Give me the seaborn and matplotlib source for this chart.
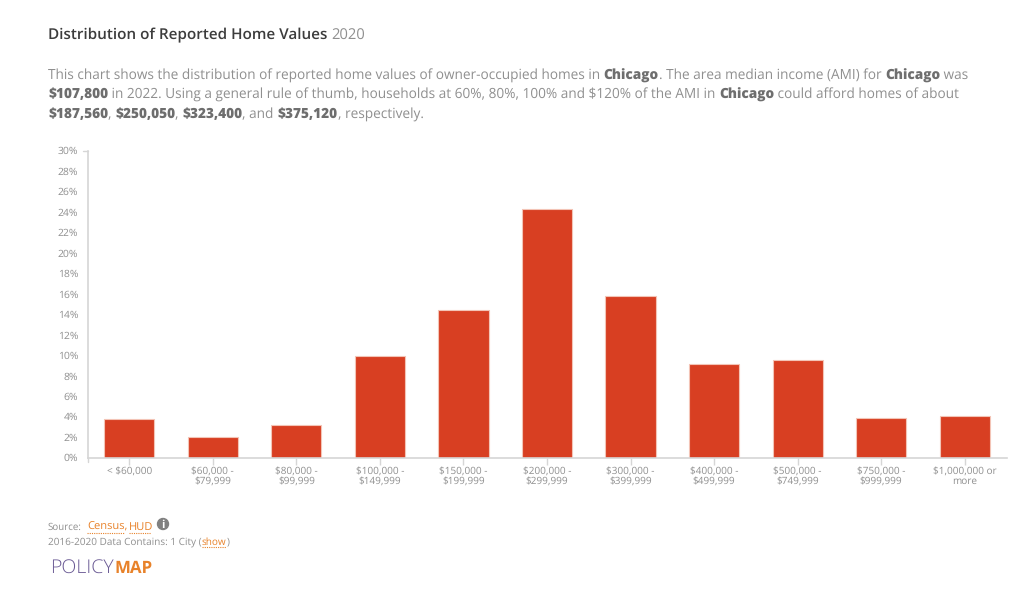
"""Distribution of reported home values, Chicago (PolicyMap chart)."""

import matplotlib

matplotlib.use("Agg")
import matplotlib.pyplot as plt
import pandas as pd
import seaborn as sns
from matplotlib.lines import Line2D
from matplotlib.patches import Ellipse
from matplotlib.ticker import FuncFormatter, MultipleLocator

categories = [
    "< $60,000",
    "$60,000 -\n$79,999",
    "$80,000 -\n$99,999",
    "$100,000 -\n$149,999",
    "$150,000 -\n$199,999",
    "$200,000 -\n$299,999",
    "$300,000 -\n$399,999",
    "$400,000 -\n$499,999",
    "$500,000 -\n$749,999",
    "$750,000 -\n$999,999",
    "$1,000,000 or\nmore",
]
shares = [3.8, 2.0, 3.2, 9.9, 14.4, 24.3, 15.8, 9.1, 9.5, 3.9, 4.1]

intro_lines = [
    [("This chart shows the distribution of reported home values of owner-occupied homes in ", False),
     ("Chicago", True), (". The area median income (AMI) for ", False), ("Chicago", True), (" was", False)],
    [("$107,800", True), (" in 2022. Using a general rule of thumb, households at 60%, 80%, 100% and $120% of the AMI in ", False),
     ("Chicago", True), (" could afford homes of about", False)],
    [("$187,560", True), (", ", False), ("$250,050", True), (", ", False), ("$323,400", True),
     (", and ", False), ("$375,120", True), (", respectively.", False)],
]

WIDTH, HEIGHT = 1024, 591
RED = "#d83f22"
GREY = "#8f8f8f"
ORANGE = "#e8822a"
AXIS = "#d6d6d6"

sns.set_theme(style="white", font="Open Sans")
plt.rcParams["font.family"] = ["Open Sans", "DejaVu Sans"]
plt.rcParams["text.hinting"] = "no_hinting"

fig = plt.figure(figsize=(WIDTH / 100, HEIGHT / 100), dpi=100, facecolor="white")
ax = fig.add_axes([87.5 / WIDTH, 1 - 457.5 / HEIGHT, 919 / WIDTH, 307 / HEIGHT])

df = pd.DataFrame({"range": categories, "share": shares})
sns.barplot(data=df, x="range", y="share", color=RED, saturation=1, width=0.6,
            edgecolor="#f3c4b6", linewidth=0.8, ax=ax)

ax.set_xlim(-0.5, len(categories) - 0.5)
ax.set_ylim(0, 30)
ax.set_xlabel("")
ax.set_ylabel("")
ax.yaxis.set_major_locator(MultipleLocator(2))
ax.yaxis.set_major_formatter(FuncFormatter(lambda v, _: f"{v:.0f}%"))
ax.tick_params(axis="y", length=0, labelsize=7.5, labelcolor=GREY, pad=6.8, left=False)
ax.tick_params(axis="x", length=5, width=1, color=AXIS, labelsize=7.2, labelcolor=GREY, pad=1.5, bottom=True)
for label in ax.get_xticklabels():
    label.set_linespacing(0.95)
sns.despine(ax=ax, top=True, right=True)
ax.spines["left"].set_color(AXIS)
ax.spines["bottom"].set_color(AXIS)
ax.spines["left"].set_linewidth(1.2)
ax.spines["bottom"].set_linewidth(1.2)

# small ticks at the top of the y axis and under its foot
fig.add_artist(Line2D([83 / WIDTH, 87.5 / WIDTH], [1 - 150.5 / HEIGHT] * 2, color=AXIS, lw=1))
fig.add_artist(Line2D([87.5 / WIDTH] * 2, [1 - 457.5 / HEIGHT, 1 - 462 / HEIGHT], color=AXIS, lw=1))


def put_text(x, y, text, **kwargs):
    return fig.text(x / WIDTH, 1 - y / HEIGHT, text, va="baseline", **kwargs)


def put_runs(x, y, runs, size, color, bold_color=None, weight="normal"):
    # draws text pieces one after the other, returns the x where they end
    renderer = fig.canvas.get_renderer()
    for piece, bold in runs:
        run_weight = "heavy" if bold else weight
        put_text(x, y, piece, fontsize=size, color=(bold_color if bold else color), fontweight=run_weight)
        # trailing spaces get measured through a stand-in character
        probe = put_text(0, 0, piece.replace(" ", "\u00a0"), fontsize=size, fontweight=run_weight)
        x += probe.get_window_extent(renderer).width
        probe.remove()
    return x


def dotted_underline(x0, x1, y):
    fig.add_artist(Line2D([x0 / WIDTH, x1 / WIDTH], [1 - y / HEIGHT] * 2, color=ORANGE, lw=0.8, ls=(0, (1, 1))))


# heading
end = put_runs(48, 39.5, [("Distribution of Reported Home Values", False)], 10.95, "#3c3c3c", weight="semibold")
put_text(end + 4, 39.5, "2020", fontsize=10.6, color=GREY)

# intro paragraph
for line_y, runs in zip([79.2, 98.2, 118.2], intro_lines):
    put_runs(48, line_y, runs, 9.8, GREY, bold_color="#6e6e6e")

# source block
put_text(48, 530, "Source:", fontsize=7, color=GREY)
put_text(87, 530, "Census,", fontsize=8, color=ORANGE)
dotted_underline(87, 124, 532.5)
put_text(129, 530, "HUD", fontsize=8, color=ORANGE)
dotted_underline(129, 151, 532.5)
fig.add_artist(Ellipse((163 / WIDTH, 1 - 524 / HEIGHT), 11 / WIDTH, 11 / HEIGHT, color="#808080"))
put_text(163, 527.8, "i", fontsize=8, color="white", ha="center", fontweight="bold")

end = put_runs(48, 544.5, [("2016-2020 Data Contains: 1 City (", False)], 7.2, GREY)
end_show = put_runs(end, 544.5, [("show", False)], 7.2, ORANGE)
dotted_underline(end, end_show, 546.5)
put_runs(end_show, 544.5, [(")", False)], 7.2, GREY)

# logo
end = put_runs(50, 573, [("POLICY", False)], 14, "#6b5b95", weight="light")
put_text(end + 1, 573, "MAP", fontsize=12.2, color=ORANGE, fontweight="bold")

fig.savefig("out.png", dpi=100)
